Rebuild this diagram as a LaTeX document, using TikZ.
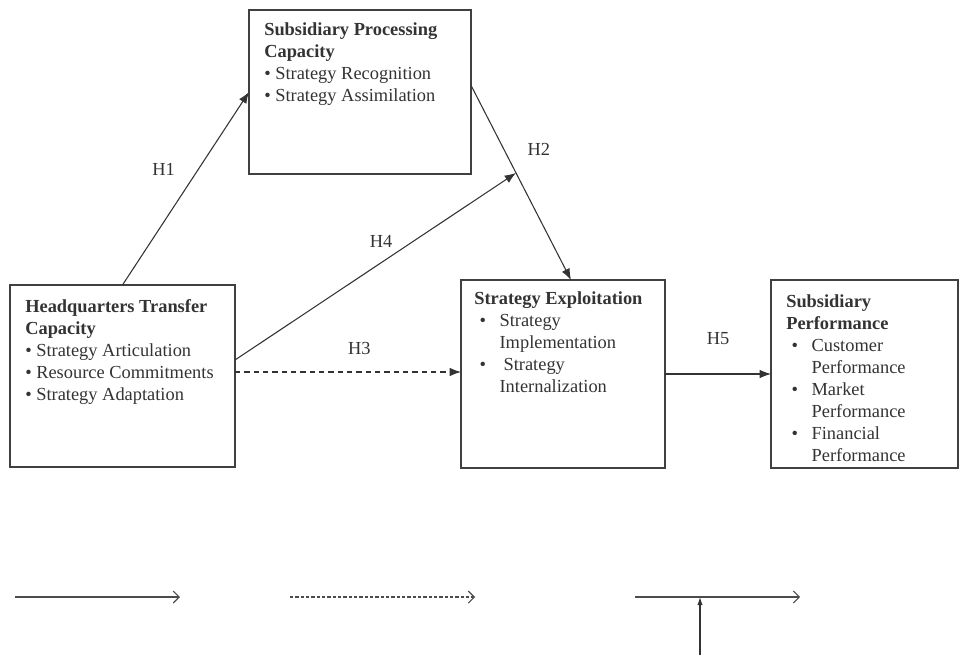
\documentclass[tikz,border=0pt]{standalone}
\usepackage{fontspec}
\setmainfont{Liberation Serif}
\usetikzlibrary{arrows.meta}

\begin{document}
\begin{tikzpicture}[x=0.75pt, y=-0.75pt,
    font=\fontsize{13.8}{16.5}\selectfont, text=black!80,
    box/.style={draw=black!75, line width=1pt, inner sep=0pt, outer sep=0pt, anchor=north west},
    boxtext/.style={anchor=north west, align=left, inner sep=0pt},
    arr/.style={draw=black!80, line width=0.8pt, -{Latex[length=8.5pt, width=6.5pt]}},
    legarr/.style={draw=black!70, line width=0.8pt, -{Straight Barb[length=4.5pt, width=9pt]}}]
    \useasboundingbox (0,0) rectangle (962,655);

    % the four constructs
    \node [box, minimum width=168.75pt, minimum height=136.5pt] (hq) at (10,285) {};
    \node [box, minimum width=166.5pt, minimum height=123pt] (spc) at (249,10) {};
    \node [box, minimum width=153pt, minimum height=141pt] (se) at (461,280) {};
    \node [box, minimum width=140.25pt, minimum height=141pt] (sp) at (771,280) {};

    \node [boxtext] (hqtext) at ([shift={(15,14)}]hq.north west)
        {\textbf{Headquarters Transfer}\\ \textbf{Capacity}\\
        \textbullet{} Strategy Articulation\\
        \textbullet{} Resource Commitments\\
        \textbullet{} Strategy Adaptation};
    \node [boxtext] (spctext) at ([shift={(15,12)}]spc.north west)
        {\textbf{Subsidiary Processing}\\ \textbf{Capacity}\\
        \textbullet{} Strategy Recognition\\
        \textbullet{} Strategy Assimilation};
    \node [boxtext] (setext) at ([shift={(13,11)}]se.north west)
        {\textbf{Strategy Exploitation}\\
        \makebox[19pt][l]{\hspace{4pt}\textbullet}Strategy\\
        \hspace*{19pt}Implementation\\
        \makebox[19pt][l]{\hspace{4pt}\textbullet}\hspace{3pt}Strategy\\
        \hspace*{19pt}Internalization};
    \node [boxtext] (sptext) at ([shift={(15,14)}]sp.north west)
        {\textbf{Subsidiary}\\ \textbf{Performance}\\
        \makebox[19pt][l]{\hspace{4pt}\textbullet}Customer\\
        \hspace*{19pt}Performance\\
        \makebox[19pt][l]{\hspace{4pt}\textbullet}Market\\
        \hspace*{19pt}Performance\\
        \makebox[19pt][l]{\hspace{4pt}\textbullet}Financial\\
        \hspace*{19pt}Performance};

    % hypotheses
    \draw [arr] (hq.north) -- (spc.west) node [pos=0.6, left=14pt] (h1) {H1};
    \draw [arr] ([yshift=5pt]spc.east) -- ([xshift=6pt]se.north)
        coordinate [pos=0.45] (h2mid)
        node [pos=0.33, right=14pt] (h2) {H2};
    \draw [arr] ([yshift=12pt]hq.east) -- (h2mid) node [pos=0.52, above=8pt] (h4) {H4};
    \draw [arr, dashed, dash pattern=on 4pt off 3pt] ([yshift=3pt]hq.east) -- ([yshift=3pt]hq.east -| se.west)
        node [pos=0.55, above=9pt] (h3) {H3};
    \draw [arr] (se.east) -- (se.east -| sp.west) node [midway, above=18pt] (h5) {H5};

    % legend
    \coordinate (solidA) at (15,597);
    \coordinate (solidB) at (180,597);
    \coordinate (dashA) at (290,597);
    \coordinate (dashB) at (475,597);
    \coordinate (modA) at (635,597);
    \coordinate (modB) at (800,597);
    \coordinate (modC) at (700,597);
    \coordinate (modD) at (700,655);
    \draw [legarr] (solidA) -- (solidB);
    \draw [legarr, dash pattern=on 2.5pt off 1.5pt] (dashA) -- (dashB);
    \draw [legarr] (modA) -- (modB);
    \draw [draw=black!80, line width=0.8pt, -{Latex[length=6pt, width=4pt]}] (modD) -- (modC);
\end{tikzpicture}
\end{document}
